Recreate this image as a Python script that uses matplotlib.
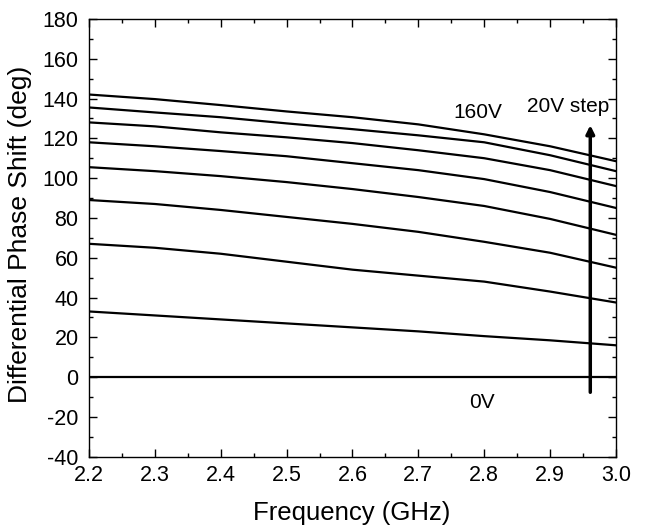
import matplotlib
matplotlib.use("Agg")
import matplotlib.pyplot as plt
import numpy as np

plt.rcParams['font.family'] = ['Liberation Sans', 'DejaVu Sans']
plt.rcParams['axes.unicode_minus'] = False

freq = [2.2, 2.3, 2.4, 2.5, 2.6, 2.7, 2.8, 2.9, 3.0]
# phase shift curves, one per bias voltage (0V .. 160V, 20V step)
phase_0v = [0, 0, 0, 0, 0, 0, 0, 0, 0]
phase_20v = [33, 31, 29, 27, 25, 23, 20.6, 18.5, 16]
phase_40v = [67, 65, 62, 58, 54, 51, 48, 43, 37.5]
phase_60v = [89, 87, 84, 80.5, 77, 73, 68, 62.5, 55]
phase_80v = [105.5, 103.5, 101, 98, 94.5, 90.5, 86, 79.5, 71.5]
phase_100v = [118, 116, 113.6, 111, 107.5, 104, 99.5, 93, 85]
phase_120v = [128, 126, 123, 120.5, 117.6, 114, 110, 104, 96]
phase_140v = [135.5, 133, 130.6, 127.5, 124.6, 121.5, 118, 111.5, 103.5]
phase_160v = [142, 139.7, 136.7, 133.5, 130.6, 127, 122, 116, 108.5]

curves = [phase_0v, phase_20v, phase_40v, phase_60v, phase_80v,
          phase_100v, phase_120v, phase_140v, phase_160v]

fig = plt.figure(figsize=(6.45, 5.25), dpi=100)
ax = fig.add_axes([0.138, 0.130, 0.817, 0.834])

for c in curves:
    ax.plot(freq, c, color='black', linewidth=1.6)

ax.set_xlim(2.2, 3.0)
ax.set_ylim(-40, 180)
ax.set_xticks(np.arange(2.2, 3.01, 0.1))
ax.set_xticks(np.arange(2.25, 3.0, 0.1), minor=True)
ax.set_yticks(np.arange(-40, 181, 20))
ax.set_yticks(np.arange(-30, 180, 20), minor=True)
ax.xaxis.set_major_formatter(matplotlib.ticker.FormatStrFormatter('%.1f'))
ax.tick_params(which='both', direction='in', top=True, right=True,
               labelsize=15.5, width=1)
ax.tick_params(which='major', length=6)
ax.tick_params(which='minor', length=3)
ax.tick_params(axis='x', pad=6)
ax.tick_params(axis='y', pad=7.5)
for s in ax.spines.values():
    s.set_linewidth(1)

fig.text(0.546, 0.0095, 'Frequency (GHz)', fontsize=18.5,
         ha='center', va='baseline')
fig.text(0.031, 1 - 234 / 525, 'Differential Phase Shift (deg)', fontsize=19,
         rotation=90, ha='center', va='center')

ax.annotate('', xy=(2.961, 128), xytext=(2.961, -9),
            arrowprops=dict(arrowstyle='-|>', color='black', lw=2.5,
                            mutation_scale=12))
ax.text(2.79, 133, '160V', fontsize=15, ha='center', va='center')
ax.text(2.927, 136, '20V step', fontsize=15, ha='center', va='center')
ax.text(2.797, -12.5, '0V', fontsize=15, ha='center', va='center')

fig.savefig('out.png', dpi=100)
